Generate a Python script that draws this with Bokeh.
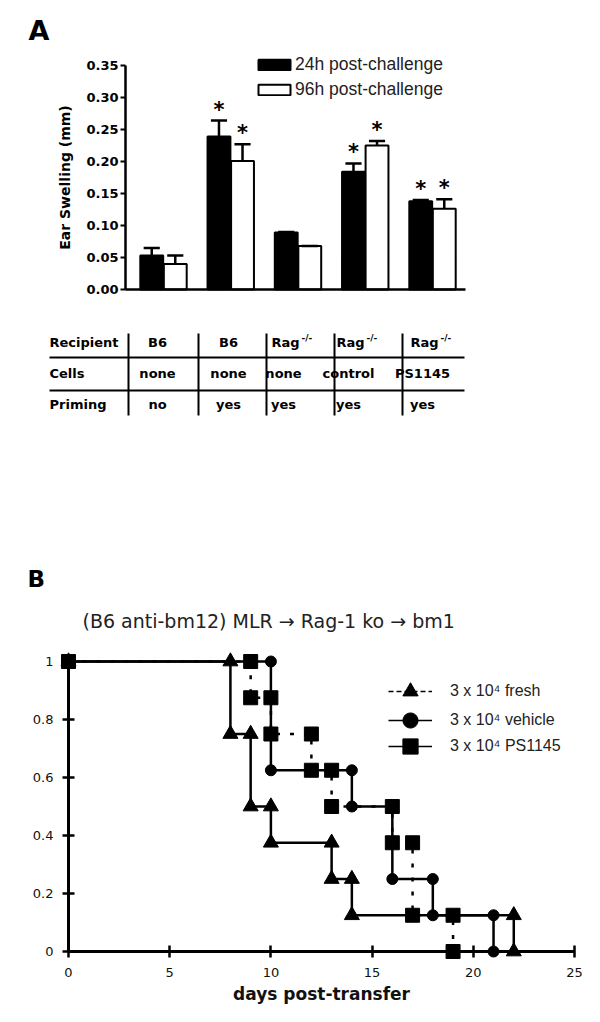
import numpy as np
from bokeh.plotting import figure
from bokeh.models import (Range1d, FixedTicker, NumeralTickFormatter, Legend,
                          LegendItem, Label)
from bokeh.layouts import column
from bokeh.core.properties import value
from bokeh.embed import file_html
from bokeh.resources import INLINE

# ---------------- Panel A data ----------------
row_labels = ["Recipient", "Cells", "Priming"]
recipient = ["B6", "B6", "Rag", "Rag", "Rag"]
recipient_sup = ["", "", "-/-", "-/-", "-/-"]
cells = ["none", "none", "none", "control", "PS1145"]
priming = ["no", "yes", "yes", "yes", "yes"]

swell_24h = [0.053, 0.239, 0.089, 0.184, 0.138]
sem_24h = [0.012, 0.025, 0.001, 0.013, 0.002]
swell_96h = [0.040, 0.201, 0.068, 0.225, 0.126]
sem_96h = [0.013, 0.026, 0.0, 0.007, 0.015]
sig_24h = [False, True, False, True, True]
sig_96h = [False, True, False, True, True]
series_a = ["24h post-challenge", "96h post-challenge"]
yticks_a = [0.0, 0.05, 0.10, 0.15, 0.20, 0.25, 0.30, 0.35]

# ---------------- Panel B data ----------------
tri_days = [0, 8, 9, 10, 13, 14, 22]
tri_surv = [1, 0.75, 0.5, 0.375, 0.25, 0.125, 0]
circ_days = [0, 10, 14, 16, 18, 21]
circ_surv = [1, 0.625, 0.5, 0.25, 0.125, 0]
sq_days = [0, 9, 10, 12, 13, 16, 17, 19]
sq_surv = [1, 0.875, 0.75, 0.625, 0.5, 0.375, 0.125, 0]
legend_b = ["3 x 10\u2074 fresh", "3 x 10\u2074 vehicle", "3 x 10\u2074 PS1145"]
xticks_b = [0, 5, 10, 15, 20, 25]
yticks_b = [0, 0.2, 0.4, 0.6, 0.8, 1]
title_b = "(B6 anti-bm12) MLR  \u2192  Rag-1 ko  \u2192   bm1"
xlabel_b = "days post-transfer"

VER = value("DejaVu Sans")

# ================= Figure A: bars (frame = whole canvas) =================
HA = 310
pA = figure(width=600, height=HA, x_range=Range1d(-2.4238, 6.4981),
            y_range=Range1d(-0.0328, 0.4516), output_backend="svg",
            toolbar_location=None, min_border=0, title=None)
pA.outline_line_color = None
pA.grid.visible = False

xg = np.arange(len(swell_24h))
off = 0.175
bw = 0.34
r24 = pA.vbar(x=xg - off, top=swell_24h, width=bw, fill_color="black",
              line_color="black", line_width=2)
r96 = pA.vbar(x=xg + off, top=swell_96h, width=bw, fill_color="white",
              line_color="black", line_width=2)

for xs, tops, sems in ((xg - off, swell_24h, sem_24h), (xg + off, swell_96h, sem_96h)):
    t = np.array(tops)
    e = t + np.array(sems)
    pA.segment(x0=xs, y0=t, x1=xs, y1=e, line_color="black", line_width=2.5)
    pA.segment(x0=xs - 0.12, y0=e, x1=xs + 0.12, y1=e, line_color="black",
               line_width=2.5)

for xs, tops, sems, sig in ((xg - off, swell_24h, sem_24h, sig_24h),
                            (xg + off, swell_96h, sem_96h, sig_96h)):
    m = np.array(sig)
    e = (np.array(tops) + np.array(sems))[m]
    pA.text(x=xs[m], y=e, text=["*"] * int(m.sum()), text_font=VER,
            text_font_style="bold", text_font_size="21px", text_align="center",
            text_baseline="alphabetic", y_offset=-11, text_color="black")

xa = pA.xaxis[0]
xa.fixed_location = 0
xa.bounds = (-0.565, 4.49)
xa.ticker = FixedTicker(ticks=[])
xa.major_tick_line_color = None
xa.minor_tick_line_color = None
xa.axis_line_width = 2.5
xa.axis_line_color = "black"
xa.major_label_text_font_size = "0px"

ya = pA.yaxis[0]
ya.fixed_location = -0.565
ya.bounds = (0, 0.35)
ya.ticker = FixedTicker(ticks=yticks_a)
ya.formatter = NumeralTickFormatter(format="0.00")
ya.axis_line_width = 2.5
ya.major_tick_line_width = 2
ya.major_tick_in = 0
ya.major_tick_out = 5
ya.minor_tick_line_color = None
ya.major_label_text_font = "DejaVu Sans"
ya.major_label_text_font_style = "bold"
ya.major_label_text_font_size = "13px"
ya.major_label_text_color = "black"
ya.major_label_standoff = 2
ya.axis_label = "Ear Swelling (mm)"
ya.axis_label_text_font = "DejaVu Sans"
ya.axis_label_text_font_style = "bold"
ya.axis_label_text_font_size = "14px"
ya.axis_label_text_color = "black"
ya.axis_label_standoff = 10

legA = Legend(items=[LegendItem(label=series_a[0], renderers=[r24]),
                     LegendItem(label=series_a[1], renderers=[r96])],
              location=(254, 210), padding=0, margin=0, spacing=4,
              glyph_width=40, glyph_height=13, label_standoff=1,
              label_height=20, border_line_alpha=0, background_fill_alpha=0,
              label_text_font="Liberation Sans", label_text_font_size="17.5px",
              label_text_color="#222222")
pA.add_layout(legA, "center")

pA.add_layout(Label(x=28, y=HA - 30, x_units="screen", y_units="screen",
                    text="A", text_font="DejaVu Sans", text_font_style="bold",
                    text_font_size="27px", text_baseline="middle",
                    text_color="black"))

# ================= Table figure =================
pT = figure(width=600, height=150, x_range=Range1d(0, 600),
            y_range=Range1d(460, 310), output_backend="svg",
            toolbar_location=None, x_axis_type=None, y_axis_type=None,
            min_border=0, title=None)
pT.outline_line_color = None

row_y = [342, 373, 404]
col_x = [157, 228, 283, 348, 422]
hline_y = [357, 390]
vline_x = [128, 198, 266, 334, 402]
tfont = dict(text_font=VER, text_font_style="bold", text_font_size="13px",
             text_baseline="middle", text_color="black")

pT.text(x=[49] * 3, y=row_y, text=row_labels, text_align="left", **tfont)
plain = [i for i, s in enumerate(recipient_sup) if not s]
sup = [i for i, s in enumerate(recipient_sup) if s]
pT.text(x=[col_x[i] for i in plain], y=[row_y[0]] * len(plain),
        text=[recipient[i] for i in plain], text_align="center", **tfont)
pT.text(x=[col_x[i] - 12 for i in sup], y=[row_y[0]] * len(sup),
        text=[recipient[i] for i in sup], text_align="left", **tfont)
pT.text(x=[col_x[i] + 18 for i in sup], y=[row_y[0] - 5] * len(sup),
        text=[recipient_sup[i] for i in sup], text_align="left",
        text_font=VER, text_font_style="bold", text_font_size="9px",
        text_baseline="middle", text_color="black")
pT.text(x=col_x, y=[row_y[1]] * 5, text=cells, text_align="center", **tfont)
pT.text(x=col_x, y=[row_y[2]] * 5, text=priming, text_align="center", **tfont)
pT.segment(x0=[49] * 2, y0=hline_y, x1=[464] * 2, y1=hline_y,
           line_color="black", line_width=2)
pT.segment(x0=vline_x, y0=[333] * 5, x1=vline_x, y1=[415] * 5,
           line_color="black", line_width=2)

# ================= Figure B: survival (frame = whole canvas) =================
HB = 562
pB = figure(width=600, height=HB, x_range=Range1d(-3.3597, 26.2846),
            y_range=Range1d(-0.2448, 1.6931), output_backend="svg",
            toolbar_location=None, min_border=0, title=None)
pB.outline_line_color = None
pB.grid.visible = False


def marks(days, surv):
    d = np.array(days, dtype=float)
    s = np.array(surv, dtype=float)
    return np.concatenate([d, d[1:]]), np.concatenate([s, s[:-1]])


tri_step = pB.step(tri_days, tri_surv, mode="after", line_color="black",
                   line_width=2.5)
circ_step = pB.step(circ_days, circ_surv, mode="after", line_color="black",
                    line_width=2.5)
sq_step = pB.step(sq_days, sq_surv, mode="after", line_color="black",
                  line_width=2.5, line_dash="4 10")

tx, ty = marks(tri_days, tri_surv)
cx, cy = marks(circ_days, circ_surv)
sx, sy = marks(sq_days, sq_surv)
tri_sc = pB.scatter(tx, ty, marker="triangle", size=15, color="black")
circ_sc = pB.scatter(cx, cy, marker="circle", size=11, color="black")
sq_sc = pB.scatter(sx, sy, marker="square", size=14, color="black")

# legend-only proxies (NaN data: nothing drawn in the plot)
dash_leg = pB.line(x=[np.nan], y=[np.nan], line_color="black", line_width=1.5,
                   line_dash="5 3")
solid_leg = pB.line(x=[np.nan], y=[np.nan], line_color="black", line_width=1.5)

for ax in (pB.xaxis[0], pB.yaxis[0]):
    ax.axis_line_width = 3
    ax.axis_line_color = "black"
    ax.major_tick_line_width = 2.5
    ax.major_tick_in = 6
    ax.major_tick_out = 6
    ax.minor_tick_line_color = None
    ax.major_label_text_font = "DejaVu Sans"
    ax.major_label_text_font_size = "13px"
    ax.major_label_text_color = "#111111"
    ax.fixed_location = 0

xb = pB.xaxis[0]
yb = pB.yaxis[0]
xb.ticker = FixedTicker(ticks=xticks_b)
yb.ticker = FixedTicker(ticks=yticks_b)
yb.formatter = NumeralTickFormatter(format="0.[0]")
xb.bounds = (0, 25)
yb.bounds = (0, 1)
xb.major_label_standoff = 10
yb.major_label_standoff = 9
xb.axis_label = xlabel_b
xb.axis_label_text_font = "DejaVu Sans"
xb.axis_label_text_font_style = "bold"
xb.axis_label_text_font_size = "17px"
xb.axis_label_text_color = "#111111"
xb.axis_label_standoff = 4

leg_rows = [(legend_b[0], [dash_leg, tri_sc], 691),
            (legend_b[1], [solid_leg, circ_sc], 720),
            (legend_b[2], [solid_leg, sq_sc], 746)]
for lab, rends, cy_page in leg_rows:
    lg = Legend(items=[LegendItem(label=lab, renderers=rends)],
                location=(388, 1022 - (cy_page + 19)), padding=0, margin=0,
                glyph_width=44, glyph_height=38, label_standoff=18,
                label_height=20, border_line_alpha=0, background_fill_alpha=0,
                label_text_font="Liberation Sans", label_text_font_size="16px",
                label_text_color="#222222")
    pB.add_layout(lg, "center")

pB.add_layout(Label(x=27, y=HB - (578 - 460), x_units="screen", y_units="screen",
                    text="B", text_font="DejaVu Sans", text_font_style="bold",
                    text_font_size="23px", text_baseline="middle",
                    text_color="black"))
pB.add_layout(Label(x=82, y=HB - (620 - 460), x_units="screen", y_units="screen",
                    text=title_b, text_font="DejaVu Sans",
                    text_font_size="19px", text_baseline="middle",
                    text_align="left", text_color="#222222"))

layout = column(pA, pT, pB, spacing=0)
open("out.html", "w").write(file_html(layout, INLINE))
